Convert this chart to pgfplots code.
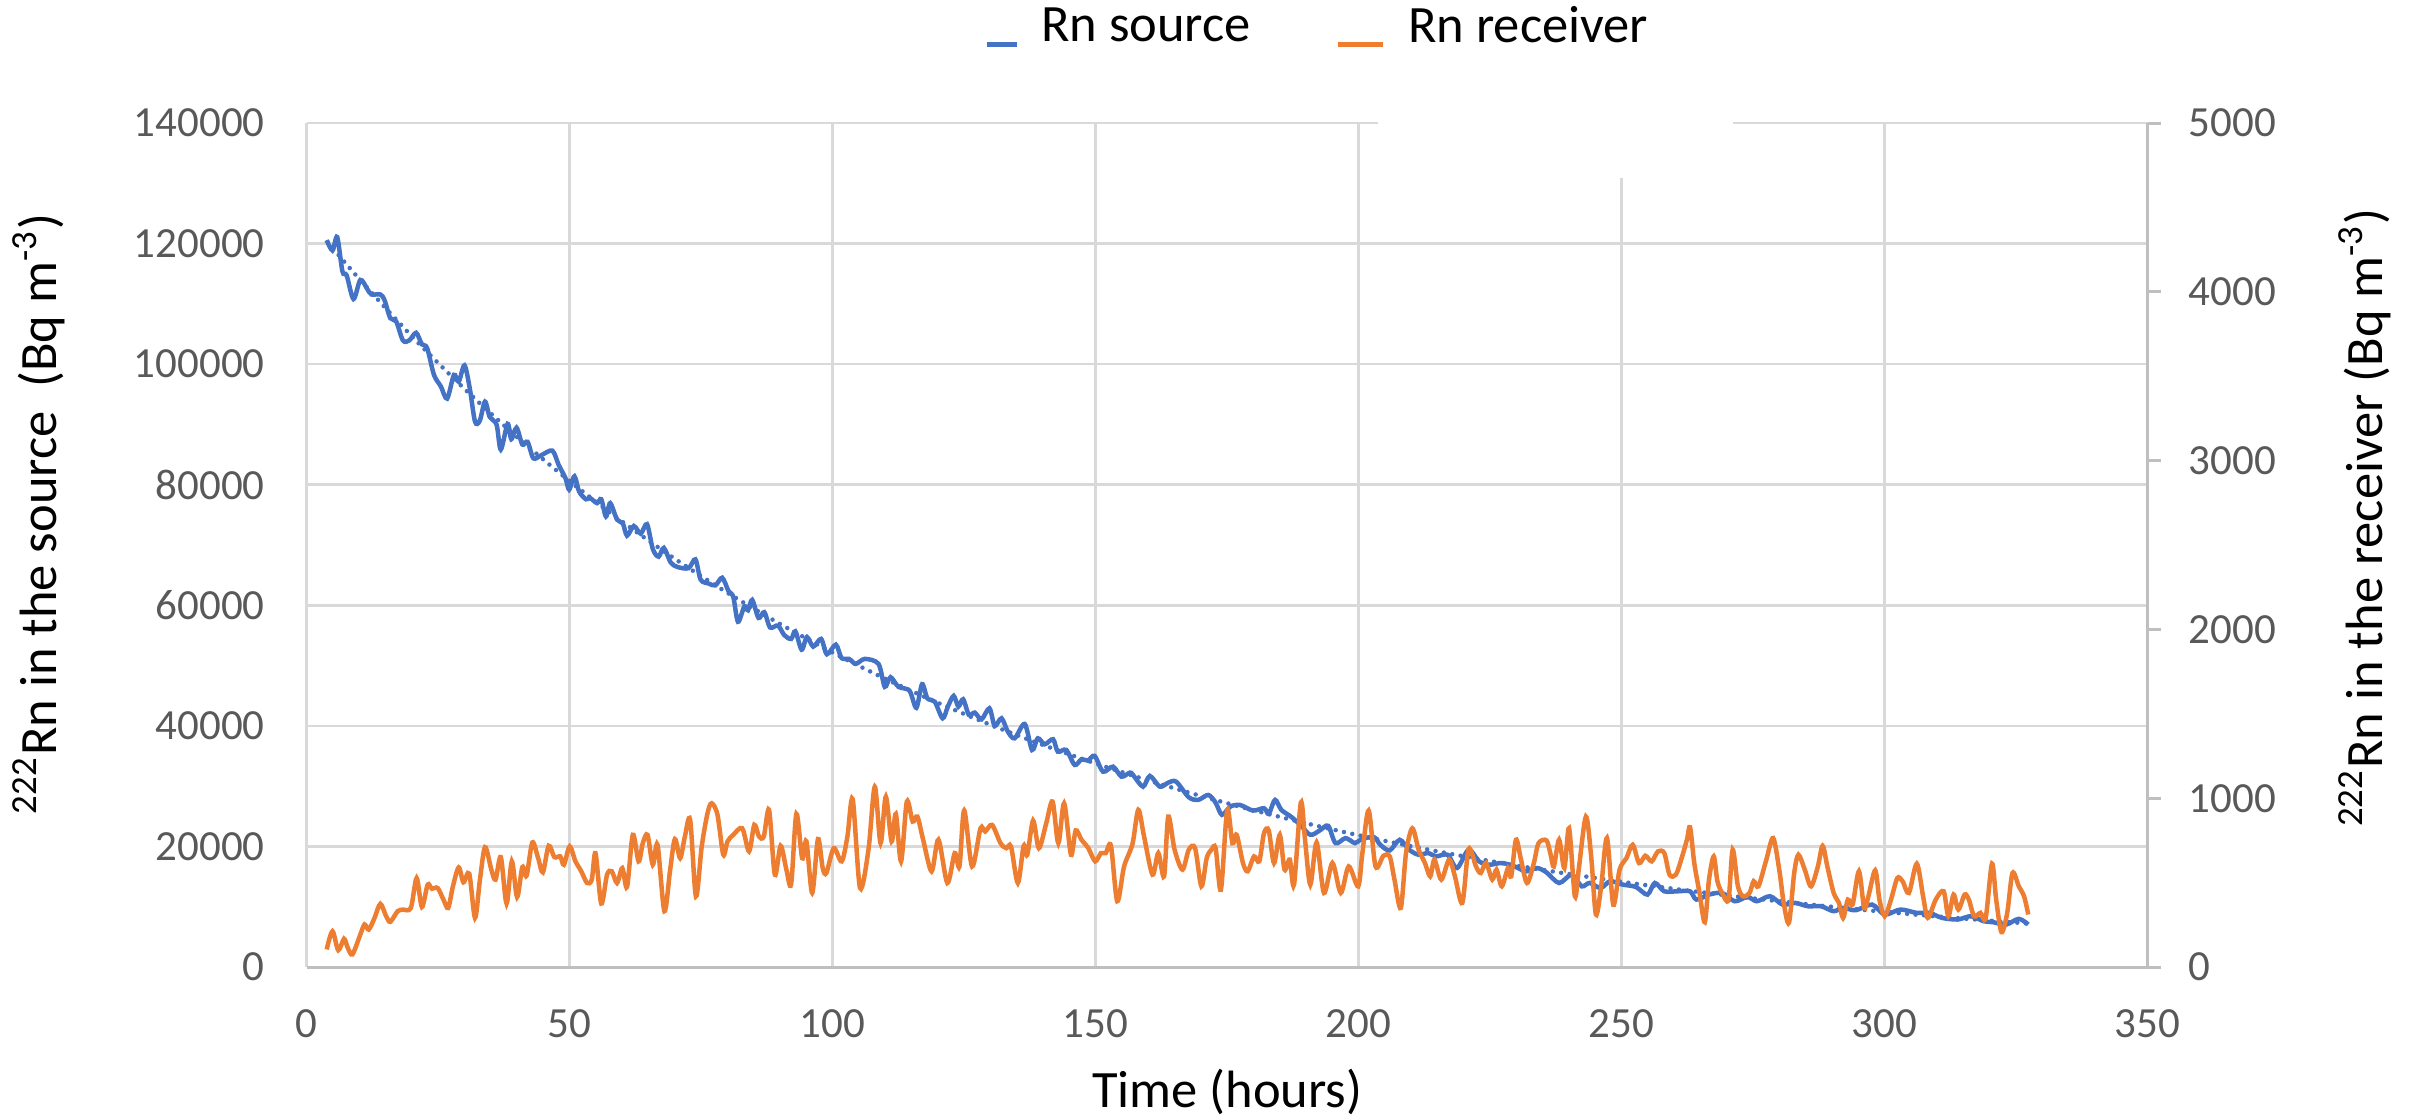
\documentclass[border=0pt]{standalone}
\usepackage{fontspec}
\setmainfont{Carlito}
\usepackage{pgfplots}
\pgfplotsset{compat=1.18}
\definecolor{srcblue}{HTML}{4472C4}
\definecolor{recorange}{HTML}{ED7D31}
\definecolor{gridgray}{HTML}{D9D9D9}
\definecolor{axisgray}{HTML}{BFBFBF}
\definecolor{tickgray}{HTML}{595959}
\newcommand{\tickfont}{\fontsize{8.6}{10}\selectfont}
\newcommand{\labfont}{\fontsize{10.5}{12.5}\selectfont}
\pgfplotsset{
  shortleg/.style={legend image code/.code={\draw[##1] (0pt,-3.3pt) -- (6pt,-3.3pt);}},
  longleg/.style={legend image code/.code={\draw[##1] (0pt,-3.3pt) -- (9pt,-3.3pt);}},
}
\begin{document}
\begin{tikzpicture}
\path[use as bounding box] (0,0) rectangle (483pt,223.4pt);
\begin{axis}[
  at={(61.34pt,30pt)}, anchor=south west, scale only axis,
  width=368.2pt, height=168.8pt,
  xmin=0, xmax=350, ymin=0, ymax=140000,
  xtick={0,50,...,350}, ytick={0,20000,...,140000},
  axis lines*=left,
  x axis line style={draw=axisgray, line width=0.6pt},
  y axis line style={draw=none},
  grid=major, grid style={draw=gridgray, line width=0.5pt},
  major tick length=0pt,
  scaled y ticks=false,
  /pgf/number format/fixed,
  /pgf/number format/assume math mode=true,
  /pgf/number format/1000 sep={},
  tick label style={font=\tickfont, text=tickgray},
  xticklabel style={inner sep=0pt, anchor=north, yshift=-8.4pt},
  yticklabel style={inner sep=0pt, anchor=east, xshift=-8.2pt},
  xlabel={Time (hours)},
  every axis x label/.style={at={(axis description cs:0.5,-0.1659)}, anchor=base, font=\labfont},
  ylabel={\textsuperscript{222}Rn in the source\ \ (Bq m\textsuperscript{-3})},
  every axis y label/.style={at={(axis description cs:-0.1358,0.537)}, rotate=90, anchor=base, font=\labfont},
  clip=false,
]
\fill[white] (axis cs:203.6,130900) rectangle (axis cs:271.1,141500);
\addplot[srcblue, line width=0.9pt, smooth] coordinates {
(3.8,120570) (4.9,118860) (5.8,121080) (6.8,115360) (7.6,114730) (8.9,110800)
(10.2,113970) (11.5,112500) (12.3,111560) (14.0,111560) (14.8,110600) (15.9,107620)
(17.0,107110) (18.3,103940) (19.5,103940) (20.8,105200) (21.9,103300) (22.9,102670)
(24.2,98220) (25.5,96320) (26.7,94290) (28.0,98220) (28.9,97080) (30.0,99810)
(31.0,96000) (32.0,90480) (32.9,90600) (33.9,93780) (34.8,91240) (36.1,89970)
(36.9,85840) (38.2,90100) (38.9,87560) (39.9,89460) (41.0,86670) (42.0,87110)
(43.1,84380) (44.6,84890) (46.7,85650) (47.9,83300) (49.2,81080) (49.9,79180)
(50.9,81400) (51.8,78860) (53.1,77590) (53.9,77780) (55.2,76950) (56.0,77590)
(56.9,74730) (57.7,76950) (59.0,74220) (60.1,73590) (60.9,71560) (62.2,73150)
(63.5,71880) (64.7,73460) (65.8,69340) (66.9,68070) (67.9,69520) (69.2,67110)
(70.5,66350) (72.6,66160) (73.9,67620) (74.9,64250) (76.4,63620) (77.7,63300)
(79.0,64570) (80.2,62350) (81.1,61400) (82.0,57270) (83.2,59810) (83.9,59180)
(84.7,60890) (85.9,57910) (87.0,58860) (88.1,56320) (89.6,56640) (90.8,55050)
(92.1,54420) (92.9,55690) (94.1,52640) (95.1,54740) (96.3,53150) (97.8,54420)
(98.9,51880) (100.6,53470) (101.7,51240) (103.1,51110) (104.4,50290) (106.1,51110)
(108.7,50290) (109.9,46480) (111.0,48070) (112.5,46480) (114.6,45840) (115.9,43000)
(117.0,46920) (118.0,44570) (119.4,44020) (120.9,41260) (121.9,43200) (123.0,44970)
(123.9,43200) (124.8,44410) (125.9,41810) (127.0,42200) (128.3,41090) (129.8,42920)
(130.8,39990) (132.1,41260) (133.3,39050) (134.6,37940) (136.5,40320) (137.9,36010)
(139.0,37940) (140.3,36950) (141.9,37780) (142.8,35730) (144.4,36010) (146.0,33520)
(147.3,34460) (148.5,34240) (149.8,35010) (151.4,32410) (153.3,33240) (154.9,31580)
(156.5,32250) (157.1,31860) (159.0,29920) (160.3,31690) (162.2,29920) (163.8,30580)
(165.3,30750) (167.7,28160) (169.5,27720) (171.4,28540) (172.8,27270) (174.0,25240)
(175.6,26610) (177.4,26890) (179.9,25950) (182.0,26340) (182.9,25400) (184.1,27720)
(185.3,26060) (187.1,24960) (188.9,23580) (190.8,21930) (192.6,22650) (194.2,23420)
(195.6,20550) (197.5,21380) (199.3,20550) (200.5,21210) (202.9,21540) (204.1,20280)
(205.9,19340) (207.8,21100) (209.6,19450) (211.4,18620) (213.2,18900) (214.7,18350)
(216.9,18620) (218.7,16420) (220.9,19450) (222.9,17520) (224.8,16970) (227.2,17250)
(229.6,16700) (231.8,15870) (233.9,16420) (235.7,15700) (238.1,13940) (240.5,15320)
(242.4,13390) (243.9,13940) (246.0,13110) (247.8,14220) (250.2,13670) (252.7,13280)
(254.9,12010) (256.3,13940) (258.1,12560) (260.6,12560) (263.0,12560) (264.2,11190)
(266.6,12010) (269.1,12290) (271.5,10910) (273.9,11630) (275.7,10910) (278.2,11740)
(280.6,10360) (283.0,10630) (285.4,10080) (287.9,10080) (290.3,9260) (292.1,9810)
(294.5,9420) (297.6,10360) (300.0,8710) (303.0,9530) (306.1,8980) (308.5,8980)
(310.9,8150) (313.9,7880) (316.4,8430) (318.8,7600) (320.6,7440) (323.1,7050)
(325.5,7990) (327.3,7050)
};
\addplot[srcblue, line width=0.9pt, line cap=round, dash pattern=on 0pt off 1.7pt, smooth] coordinates {
(4,120240) (10,114130) (20,104620) (30,95900) (40,87910) (50,80590) (60,73870)
(70,67710) (80,62070) (90,56900) (100,52160) (110,47810) (120,43830) (130,40180)
(140,36830) (150,33760) (160,30950) (170,28370) (180,26010) (190,23840) (200,21850)
(210,20030) (220,18360) (230,16830) (240,15430) (250,14140) (260,12960) (270,11890)
(280,10900) (290,9990) (300,9150) (310,8390) (320,7690) (327,7240)
};
\end{axis}
\begin{axis}[
  at={(61.34pt,30pt)}, anchor=south west, scale only axis,
  width=368.2pt, height=168.8pt,
  xmin=0, xmax=350, ymin=0, ymax=5000,
  axis x line=none, axis y line*=right,
  y axis line style={draw=axisgray, line width=0.6pt},
  ytick={0,1000,...,5000},
  ytick style={draw=axisgray, line width=0.6pt},
  tick align=outside, major tick length=2.6pt,
  scaled y ticks=false,
  /pgf/number format/fixed,
  /pgf/number format/assume math mode=true,
  /pgf/number format/1000 sep={},
  tick label style={font=\tickfont, text=tickgray},
  yticklabel style={inner sep=0pt, anchor=west, xshift=5.4pt},
  ylabel={\textsuperscript{222}Rn in the receiver (Bq m\textsuperscript{-3})},
  every axis y label/.style={at={(axis description cs:1.1277,0.5326)}, rotate=90, anchor=base, font=\labfont},
  legend columns=2,
  legend style={at={(axis description cs:0.3683,1.0865)}, anchor=south west,
    draw=none, fill=none, inner sep=0pt, outer sep=0pt, font=\labfont,
    nodes={inner sep=0pt},
    /tikz/column 1/.style={column sep=4.4pt},
    /tikz/column 2/.style={column sep=17pt},
    /tikz/column 3/.style={column sep=4.6pt}},
  legend cell align=left,
]
\addlegendimage{srcblue, line width=0.9pt, shortleg}
\addlegendentry{Rn source}
\addplot[recorange, line width=0.9pt, smooth, longleg] coordinates {
(3.8,104) (4.9,212) (6.0,100) (7.1,167) (7.8,114) (8.7,75) (10.2,193) (11.0,252)
(11.8,222) (12.9,291) (14.0,374) (15.1,301) (15.9,268) (17.3,331) (18.3,340) (19.8,350)
(20.9,527) (21.9,356) (23.0,488) (23.8,464) (24.9,468) (26.0,399) (26.9,350) (27.8,478)
(28.9,590) (29.8,502) (30.9,553) (32.0,291) (32.9,508) (33.9,710) (35.1,577) (35.9,518)
(36.9,651) (38.0,376) (39.0,626) (40.0,415) (41.0,592) (41.8,541) (42.9,738) (44.0,645)
(44.9,561) (46.0,718) (47.1,651) (48.2,655) (48.9,606) (50.0,714) (51.1,626) (52.2,567)
(53.3,498) (54.2,518) (54.9,675) (56.0,376) (57.1,547) (58.0,567) (59.0,498) (60.0,586)
(60.9,474) (62.0,783) (63.1,626) (63.9,734) (64.8,783) (65.8,606) (66.7,724) (68.0,331)
(69.1,577) (70.0,758) (71.0,645) (71.9,773) (72.9,872) (74.0,419) (75.1,714) (76.2,911)
(77.0,970) (78.1,901) (79.2,665) (80.0,744) (81.1,783) (82.8,822) (84.1,685) (85.1,842)
(86.0,773) (86.9,773) (87.9,931) (89.0,547) (90.1,718) (91.2,577) (92.1,492) (93.1,907)
(94.2,645) (95.0,744) (96.1,439) (97.2,758) (98.1,586) (98.8,557) (100.2,704) (101.7,626)
(102.8,773) (103.8,994) (105.2,468) (106.8,695) (108.0,1068) (109.1,734) (110.1,1009) (111.2,744)
(112.0,907) (113.0,626) (114.1,980) (115.2,862) (116.1,891) (117.2,754) (118.8,567) (120.1,754)
(121.8,498) (123.2,675) (124.1,596) (125.0,927) (126.5,596) (128.1,822) (129.0,803) (130.3,842)
(131.9,734) (133.0,704) (133.9,714) (135.2,498) (136.3,718) (137.0,665) (138.1,868) (139.2,704)
(140.6,852) (141.8,980) (142.9,734) (144.0,970) (145.3,665) (146.2,809) (147.3,754) (148.6,704)
(149.9,626) (151.0,675) (151.9,675) (152.9,718) (154.1,390) (155.4,596) (157.0,730) (158.1,931)
(159.2,773) (160.8,547) (161.9,675) (163.0,537) (163.8,891) (165.0,695) (166.5,577) (167.7,695)
(168.9,704) (170.1,478) (171.1,645) (172.0,695) (172.8,704) (173.8,458) (175.0,931) (176.0,734)
(176.8,783) (178.0,616) (178.9,567) (180.1,655) (181.1,626) (182.0,793) (182.9,809) (183.9,616)
(185.0,783) (185.9,577) (186.9,636) (187.7,488) (189.0,974) (189.8,754) (190.8,488) (192.0,738)
(193.4,439) (195.0,616) (196.6,439) (198.1,596) (199.9,478) (200.7,675) (201.9,927) (203.2,596)
(204.7,659) (205.9,655) (206.8,518) (208.0,350) (209.0,675) (210.2,822) (211.4,695) (212.6,616)
(213.6,537) (214.4,636) (215.7,518) (217.2,636) (218.3,537) (219.7,380) (220.9,699) (222.3,596)
(223.2,557) (224.2,616) (225.4,518) (226.2,577) (227.2,478) (228.4,586) (229.0,537) (229.9,754)
(230.8,645) (232.0,498) (233.3,616) (234.2,734) (235.7,750) (236.5,665) (237.1,596) (238.1,754)
(239.1,586) (240.0,822) (241.1,419) (241.9,596) (243.2,891) (244.2,655) (245.1,311) (246.1,478)
(247.2,764) (248.4,370) (249.6,577) (250.9,645) (252.1,724) (253.3,616) (254.5,659) (255.7,626)
(256.9,685) (258.1,675) (259.1,547) (260.3,547) (261.4,645) (262.4,754) (263.0,828) (263.8,616)
(264.8,439) (265.8,266) (266.6,518) (267.5,655) (268.2,508) (269.1,439) (270.3,399) (271.1,695)
(272.1,478) (273.1,419) (274.3,439) (275.1,508) (276.0,478) (277.5,636) (278.8,764) (280.0,567)
(280.8,380) (281.8,262) (282.8,557) (283.6,665) (284.8,577) (286.0,478) (287.3,596) (288.2,718)
(289.1,596) (290.3,439) (291.3,380) (292.1,291) (293.0,399) (293.9,370) (295.1,567) (296.1,350)
(296.9,419) (298.2,573) (299.0,399) (300.0,301) (301.2,399) (302.4,527) (303.4,508) (304.6,439)
(306.1,612) (307.3,419) (308.2,291) (309.7,399) (311.2,449) (312.1,301) (313.1,429) (314.0,340)
(315.2,429) (316.0,399) (317.0,301) (318.2,321) (319.2,291) (320.4,612) (321.2,399) (322.2,207)
(323.3,321) (324.3,557) (325.5,478) (326.5,419) (327.3,311)
};
\addlegendentry{Rn receiver}
\end{axis}
\end{tikzpicture}
\end{document}
